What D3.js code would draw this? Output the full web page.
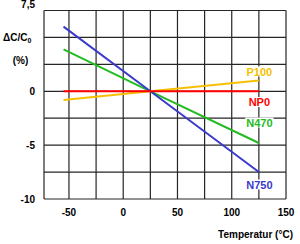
<!DOCTYPE html>
<html><head><meta charset="utf-8">
<script src="https://cdn.jsdelivr.net/npm/d3@7"></script>
<style>body{margin:0;background:#fff}svg{display:block}text{font-family:"Liberation Sans",Arial,sans-serif;font-weight:bold}</style>
</head><body>
<script>
const temps = [-55, 25, 125];
const seriesNames = ["P100", "NP0", "N470", "N750"];
const P100 = [-0.8, 0, 1.0];
const NP0 = [0, 0, 0];
const N470 = [3.9, 0, -4.8];
const N750 = [6.0, 0, -7.5];
const colors = ["#f5c000", "#ff0000", "#22bb22", "#3a3acc"];
const xTicks = [-50, 0, 50, 100, 150];
const yTickLabels = [["7,5", 7.5], ["0", 0], ["-5", -5], ["-10", -10]];
const xGrid = [-50, -25, 0, 25, 50, 75, 100, 125, 150];
const yGrid = [7.5, 5, 2.5, 0, -2.5, -5, -7.5, -10];

const W = 300, H = 244;
const svg = d3.select("body").append("svg").attr("width", W).attr("height", H);
const x = d3.scaleLinear().domain([-73, 150]).range([44, 286]);
const y = d3.scaleLinear().domain([-10, 7.5]).range([199, 10.5]);

// grid drawn as paths
let gd = "";
xGrid.forEach(d => { gd += `M${x(d)},${y(7.5)}V${y(-10)}`; });
yGrid.forEach(d => { gd += `M${x(-73)},${y(d)}H${x(150)}`; });
gd += `M${x(-73)},${y(7.5)}V${y(-10)}`;
svg.append("path").attr("class", "grid").attr("d", gd)
  .attr("fill", "none").attr("stroke", "#262626").attr("stroke-width", 1.2);

const data = [P100, NP0, N470, N750];
const line = d3.line().x((d, i) => x(temps[i])).y(d => y(d));
const order = [0, 2, 3, 1];
order.forEach(k => {
  svg.append("path").attr("d", line(data[k])).attr("fill", "none")
    .attr("stroke", colors[k]).attr("stroke-width", 2);
});

// series labels
const labelY = [71.5, 102, 122.5, 184.5];
seriesNames.forEach((n, k) => {
  const t = svg.append("text").attr("x", x(125) + 0.5).attr("y", labelY[k])
    .attr("text-anchor", "middle").attr("dominant-baseline", "central")
    .attr("font-size", 11).attr("fill", colors[k]).text(n);
  const bb = t.node().getBBox();
  svg.insert("rect", () => t.node()).attr("x", bb.x - 1).attr("y", bb.y + 1)
    .attr("width", bb.width + 2).attr("height", bb.height - 2).attr("fill", "#fff");
});

// y tick labels
const yLabPos = {"7,5": 4.5};
yTickLabels.forEach(d => {
  svg.append("text").attr("x", 35)
    .attr("y", yLabPos[d[0]] !== undefined ? yLabPos[d[0]] : y(d[1]) + 0.5)
    .attr("text-anchor", "end").attr("dominant-baseline", "central")
    .attr("font-size", 10).attr("fill", "#000").text(d[0]);
});

// x tick labels
xTicks.forEach(d => {
  svg.append("text").attr("x", x(d)).attr("y", 212)
    .attr("text-anchor", "middle").attr("dominant-baseline", "central")
    .attr("font-size", 10).attr("fill", "#000").text(d);
});

// axis titles
const yt = svg.append("text").attr("x", 3).attr("y", 37).attr("dominant-baseline", "central")
  .attr("font-size", 10).attr("fill", "#000");
yt.append("tspan").text("ΔC/C");
yt.append("tspan").attr("font-size", 7).attr("dy", 3).text("0");
svg.append("text").attr("x", 20.5).attr("y", 60).attr("text-anchor", "middle")
  .attr("dominant-baseline", "central").attr("font-size", 10).attr("fill", "#000").text("(%)");
svg.append("text").attr("x", 293).attr("y", 234).attr("text-anchor", "end")
  .attr("dominant-baseline", "central").attr("font-size", 10).attr("fill", "#000").text("Temperatur (°C)");
</script>
</body></html>
